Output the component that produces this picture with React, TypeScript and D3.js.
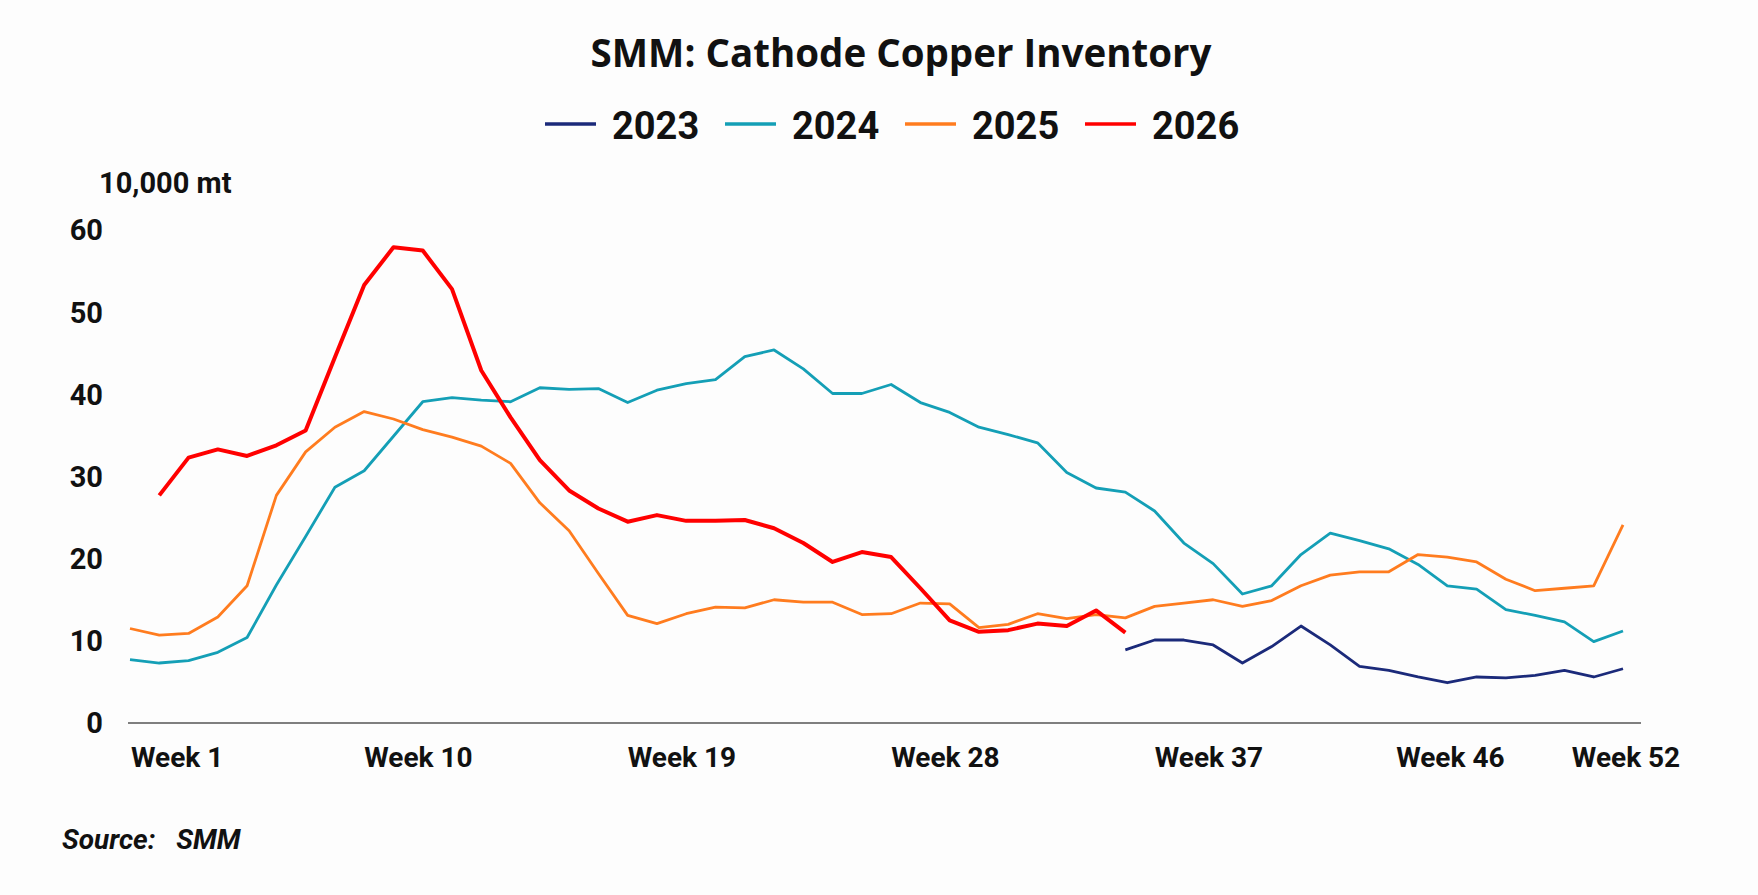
import React from 'react';
import * as d3 from 'd3';

// weekly cathode copper inventory, 10,000 mt (null = no data)
const weeks = d3.range(1, 53);
const tickWeeks = [1, 10, 19, 28, 37, 46, 52];
const yTicks = [0, 10, 20, 30, 40, 50, 60];

const years = ['2023', '2024', '2025', '2026'];
const colors = ['#1b2a7a', '#149fb6', '#ff7c1f', '#ff0000'];

const v2023: (number | null)[] = [
  null, null, null, null, null, null, null, null, null, null,
  null, null, null, null, null, null, null, null, null, null,
  null, null, null, null, null, null, null, null, null, null,
  null, null, null, null, 8.9, 10.1, 10.1, 9.5, 7.3, 9.3,
  11.8, 9.5, 6.9, 6.4, 5.6, 4.9, 5.6, 5.5, 5.8, 6.4,
  5.6, 6.6,
];

const v2024: (number | null)[] = [
  7.7, 7.3, 7.6, 8.6, 10.4, 16.8, 22.7, 28.7, 30.7, 34.9,
  39.1, 39.6, 39.3, 39.1, 40.8, 40.6, 40.7, 39.0, 40.5, 41.3,
  41.8, 44.6, 45.4, 43.1, 40.1, 40.1, 41.2, 39.0, 37.8, 36.0,
  35.1, 34.1, 30.5, 28.6, 28.1, 25.8, 21.9, 19.4, 15.7, 16.7,
  20.5, 23.1, 22.2, 21.2, 19.3, 16.7, 16.3, 13.8, 13.1, 12.3,
  9.9, 11.2,
];

const v2025: (number | null)[] = [
  11.5, 10.7, 10.9, 12.9, 16.7, 27.7, 33.0, 36.0, 37.9, 37.0,
  35.7, 34.8, 33.7, 31.6, 26.8, 23.4, 18.2, 13.1, 12.1, 13.3,
  14.1, 14.0, 15.0, 14.7, 14.7, 13.2, 13.3, 14.6, 14.5, 11.6,
  12.0, 13.3, 12.7, 13.2, 12.8, 14.2, 14.6, 15.0, 14.2, 14.9,
  16.7, 18.0, 18.4, 18.4, 20.5, 20.2, 19.6, 17.5, 16.1, 16.4,
  16.7, 24.1,
];

const v2026: (number | null)[] = [
  null, 27.7, 32.3, 33.3, 32.5, 33.8, 35.6, 44.5, 53.3, 57.9,
  57.5, 52.8, 42.9, 37.2, 32.0, 28.3, 26.1, 24.5, 25.3, 24.6,
  24.6, 24.7, 23.7, 21.9, 19.6, 20.8, 20.2, 16.4, 12.5, 11.1,
  11.3, 12.1, 11.8, 13.7, 11.0,
];

const seriesValues = [v2023, v2024, v2025, v2026];

const W = 1758;
const H = 895;
const FONT = 'Roboto, "Open Sans", sans-serif';

export default function App() {
  const x = d3.scaleLinear().domain([1, 52]).range([130, 1623]);
  const y = d3.scaleLinear().domain([0, 60]).range([723, 230]);

  const line = d3
    .line<number | null>()
    .defined((d) => d != null)
    .x((_, i) => x(weeks[i]))
    .y((d) => y(d as number));

  const legendStart = 545;
  const legendStep = 180;

  return (
    <svg
      width={W}
      height={H}
      style={{ position: 'absolute', left: 0, top: 0, background: '#fdfdfd', display: 'block' }}
      fontFamily={FONT}
    >
      <rect width={W} height={H} fill="#fdfdfd" />

      {/* title */}
      <text x={901} y={67} textAnchor="middle" fontSize={38.5} fontWeight={700} fontFamily='"Open Sans", Roboto, sans-serif' fill="#111">
        SMM: Cathode Copper Inventory
      </text>

      {/* legend */}
      {years.map((yr, i) => {
        const lx = legendStart + i * legendStep;
        return (
          <g key={yr}>
            <line x1={lx} x2={lx + 51} y1={124} y2={124} stroke={colors[i]} strokeWidth={3.5} />
            <text x={lx + 67} y={139} fontSize={38} fontWeight={700} fill="#111">
              {yr}
            </text>
          </g>
        );
      })}

      {/* unit */}
      <text x={99} y={193} fontSize={29} fontWeight={700} fill="#111">
        10,000 mt
      </text>

      {/* y tick labels */}
      {yTicks.map((t) => (
        <text key={t} x={103} y={y(t)} dy="0.36em" textAnchor="end" fontSize={29} fontWeight={700} fill="#111">
          {t}
        </text>
      ))}

      {/* x axis */}
      <line x1={x(1) - 2} x2={x(52) + 18} y1={y(0)} y2={y(0)} stroke="#7f7f7f" strokeWidth={2} />
      {tickWeeks.map((w, i) => (
        <text
          key={w}
          x={i === 0 ? x(w) + 1 : x(w) + (w <= 37 ? 25 : 3)}
          y={767}
          textAnchor={i === 0 ? 'start' : 'middle'}
          fontSize={28}
          fontWeight={700}
          fill="#111"
        >
          {`Week ${w}`}
        </text>
      ))}

      {/* series */}
      {seriesValues.map((vals, i) => (
        <path
          key={years[i]}
          d={line(vals) || ''}
          fill="none"
          stroke={colors[i]}
          strokeWidth={i === 3 ? 4 : 2.8}
          strokeLinejoin="round"
        />
      ))}

      {/* source */}
      <text x={62} y={849} fontSize={28} fontWeight={700} fontStyle="italic" fill="#111" style={{ whiteSpace: 'pre' }}>
        {'Source:   SMM'}
      </text>
    </svg>
  );
}
